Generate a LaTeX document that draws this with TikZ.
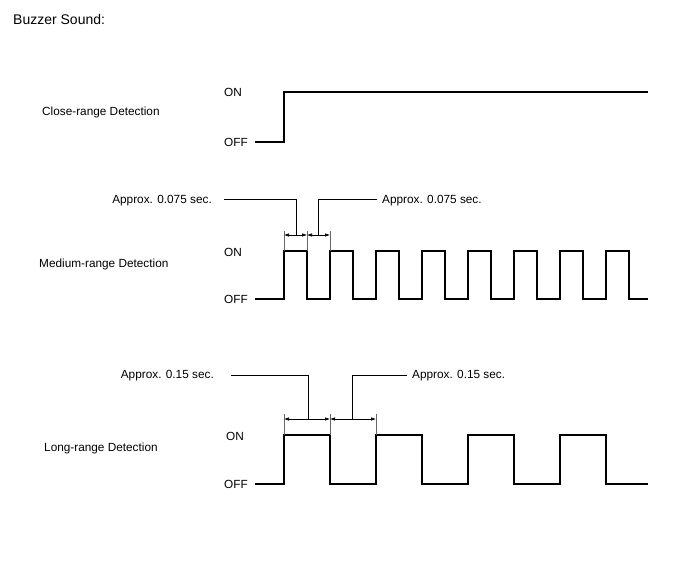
\documentclass[tikz,border=0pt]{standalone}
\usepackage{fontspec}
\setmainfont{Liberation Sans}
\usetikzlibrary{arrows.meta}
\begin{document}
\begin{tikzpicture}[x=1pt,y=-1pt,
  lbl/.style={inner sep=0pt,anchor=base west,font=\fontsize{11.8}{14}\selectfont},
  lblr/.style={inner sep=0pt,anchor=base east,font=\fontsize{11.8}{14}\selectfont},
  wave/.style={line width=1.4pt,line join=miter},
  ext/.style={line width=0.6pt,draw=black!60},
  leader/.style={line width=0.9pt},
  dim/.style={line width=0.6pt,{Latex[length=5pt,width=3.5pt]}-{Latex[length=5pt,width=3.5pt]}}]
\useasboundingbox (0,0) rectangle (688,560);
\fill[white] (0,0) rectangle (688,560);

\node[inner sep=0pt,anchor=base west,font=\fontsize{14}{16}\selectfont] (title) at (13,24.5) {Buzzer Sound:};

% Close-range
\node[lbl] (cl) at (42,115) {Close-range Detection};
\node[lbl] (con) at (224,96) {ON};
\node[lbl] (coff) at (224,146.5) {OFF};
\draw[wave] (255,142) -- (284,142) -- (284,92) -- (648,92);

% Medium-range
\node[lbl] (ml) at (39,267.5) {Medium-range Detection};
\node[lbl] (mon) at (224,256) {ON};
\node[lbl] (moff) at (224,303.5) {OFF};
\draw[wave] (255,299)
  \foreach \k in {0,...,7} { -- ({284+46*\k},299) -- ({284+46*\k},251) -- ({307+46*\k},251) -- ({307+46*\k},299) }
  -- (648,299);
\coordinate (ma) at (284,251);
\coordinate (mb) at (307,251);
\coordinate (mc) at (330,251);
\draw[ext] (ma) -- ++(0,-20);
\draw[ext] (mb) -- ++(0,-20);
\draw[ext] (mc) -- ++(0,-20);
\draw[dim] (284,235) -- (307,235);
\draw[dim] (307,235) -- (330,235);
\coordinate (mt1) at (296,235);
\coordinate (mt2) at (318,235);
\node[lblr] (ma1) at (212,203.5) {Approx. 0.075 sec.};
\node[lbl] (ma2) at (382,203.5) {Approx. 0.075 sec.};
\draw[leader] (224,199) -| (mt1);
\draw[leader] (377,199) -| (mt2);

% Long-range
\node[lbl] (ll) at (44,451) {Long-range Detection};
\node[lbl] (lon) at (226,440) {ON};
\node[lbl] (loff) at (224,488.5) {OFF};
\draw[wave] (255,484)
  \foreach \k in {0,...,3} { -- ({284+92*\k},484) -- ({284+92*\k},435) -- ({330+92*\k},435) -- ({330+92*\k},484) }
  -- (648,484);
\coordinate (la) at (284,435);
\coordinate (lb) at (330,435);
\coordinate (lc) at (376,435);
\draw[ext] (la) -- ++(0,-21);
\draw[ext] (lb) -- ++(0,-21);
\draw[ext] (lc) -- ++(0,-21);
\draw[dim] (284,419) -- (330,419);
\draw[dim] (330,419) -- (376,419);
\coordinate (lt1) at (308,419);
\coordinate (lt2) at (352,419);
\node[lblr] (la1) at (214,378.5) {Approx. 0.15 sec.};
\node[lbl] (la2) at (412,378.5) {Approx. 0.15 sec.};
\draw[leader] (231,375) -| (lt1);
\draw[leader] (407,375) -| (lt2);
\end{tikzpicture}
\end{document}
